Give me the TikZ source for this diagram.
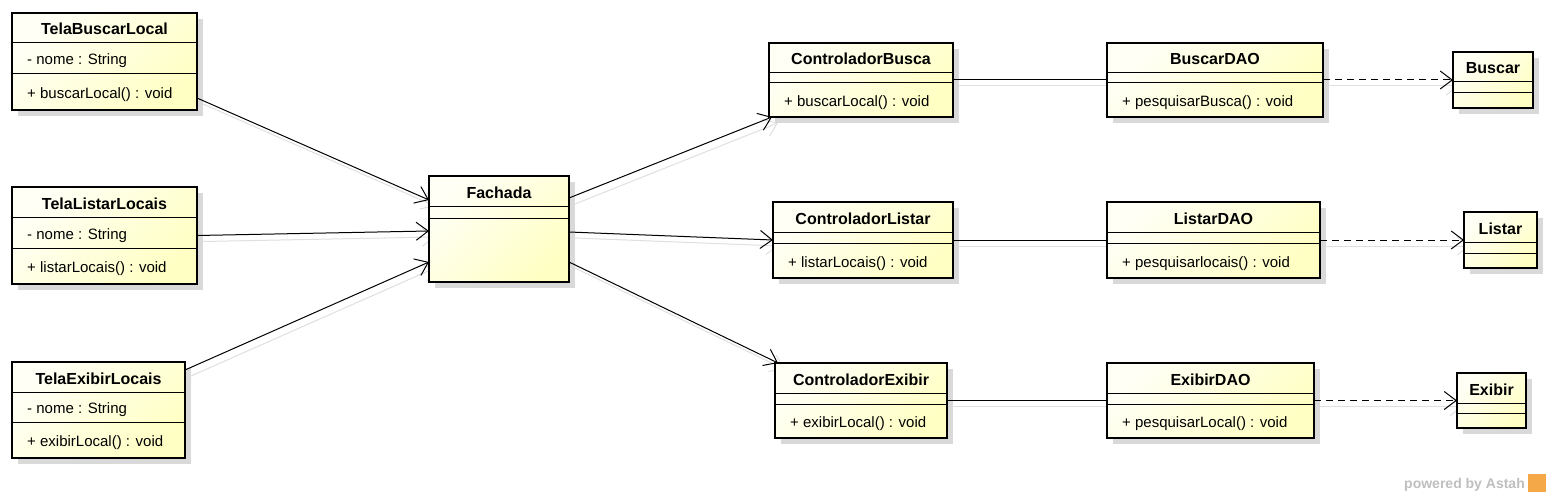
\documentclass[tikz,border=0pt]{standalone}
\usepackage{fontspec}
\setmainfont{Liberation Sans}
\usetikzlibrary{arrows.meta,backgrounds}
\definecolor{claro}{HTML}{FFFFF6}
\definecolor{creme}{HTML}{FFFFC4}
\definecolor{sombra}{HTML}{D9D9D9}
\definecolor{astah}{HTML}{F5A847}
\tikzset{
  caixa/.style={draw, line width=2.5pt, top color=claro, bottom color=creme, shading angle=45, inner sep=0pt, outer sep=0pt, anchor=north west},
  sombracaixa/.style={fill=sombra},
  divisor/.style={line width=1pt},
  titulo/.style={font=\fontsize{16}{18}\selectfont\bfseries, inner sep=0pt, anchor=base},
  membro/.style={font=\fontsize{15}{18}\selectfont, inner sep=0pt, anchor=base west},
  assoc/.style={line width=1pt, -{Straight Barb[length=12pt, width=18pt, line width=1pt]}},
  linha/.style={line width=1pt},
  depend/.style={assoc, dash pattern=on 7pt off 5pt},
  sombralinha/.style={draw=black!12, solid, transform canvas={shift={(6pt,-6pt)}}}
}
\newcommand{\classe}[9]{%
  \fill [sombracaixa] (#2+6,#3+6) rectangle (#4+6,#5+6);
  \node (#1) at (#2,#3) [caixa, minimum width={(#4-#2)*1pt}, minimum height={(#5-#3)*1pt}] {};
  \draw [divisor] (#2,#3+30) -- (#4,#3+30);
  \draw [divisor] (#2,#6) -- (#4,#6);
  \node (#1-nome) at ({(#2+#4)/2},#3+22) [titulo] {#7};
  \node (#1-atr) at (#2+15,{(#3+30+#6)/2+6.5}) [membro] {#8};
  \node (#1-met) at (#2+15,{(#6+#5)/2+6.5}) [membro] {#9};
}
\newcommand{\ligacao}[3]{%
  \begin{pgfonlayer}{background}
    \draw [#1, sombralinha] #2 -- #3;
  \end{pgfonlayer}
  \draw [#1] #2 -- #3;
}
\begin{document}
\begin{tikzpicture}[x=1pt, y=-1pt]
  \useasboundingbox (0,0) rectangle (1549,497);
  \begin{pgfonlayer}{background}
    \fill [white] (0,0) rectangle (1549,497);
  \end{pgfonlayer}

  \classe{tbl}{12}{13}{197}{110}{74}{TelaBuscarLocal}{- nome : String}{+ buscarLocal() : void}
  \classe{tll}{12}{187}{197}{284}{248}{TelaListarLocais}{- nome : String}{+ listarLocais() : void}
  \classe{tel}{12}{362}{185}{458}{422}{TelaExibirLocais}{- nome : String}{+ exibirLocal() : void}

  \classe{fachada}{429}{176}{569}{282}{218}{Fachada}{}{}

  \classe{cb}{769}{43}{953}{117}{83}{ControladorBusca}{}{+ buscarLocal() : void}
  \classe{cl}{773}{202}{953}{278}{243}{ControladorListar}{}{+ listarLocais() : void}
  \classe{ce}{775}{363}{947}{438}{404}{ControladorExibir}{}{+ exibirLocal() : void}

  \classe{bd}{1107}{43}{1323}{117}{83}{BuscarDAO}{}{+ pesquisarBusca() : void}
  \classe{ld}{1107}{202}{1320}{278}{243}{ListarDAO}{}{+ pesquisarlocais() : void}
  \classe{ed}{1107}{363}{1314}{438}{404}{ExibirDAO}{}{+ pesquisarLocal() : void}

  \classe{bu}{1453}{52}{1533}{108}{93}{Buscar}{}{}
  \classe{li}{1464}{212}{1537}{268}{253}{Listar}{}{}
  \classe{ex}{1457}{373}{1526}{428}{413}{Exibir}{}{}

  \ligacao{assoc}{([yshift=-36.5pt]tbl.east)}{([yshift=29pt]fachada.west)}
  \ligacao{assoc}{(tll.east)}{([yshift=-2pt]fachada.west)}
  \ligacao{assoc}{([yshift=40pt]tel.east)}{([yshift=-33pt]fachada.west)}
  \ligacao{assoc}{([yshift=31pt]fachada.east)}{([xshift=3pt]cb.south west)}
  \ligacao{assoc}{([yshift=-3pt]fachada.east)}{(cl.west)}
  \ligacao{assoc}{([yshift=-33pt]fachada.east)}{([xshift=3pt]ce.north west)}
  \ligacao{linha}{(cb.east)}{(bd.west)}
  \ligacao{linha}{(cl.east)}{(ld.west)}
  \ligacao{linha}{(ce.east)}{(ed.west)}
  \ligacao{depend}{(bd.east)}{(bu.west)}
  \ligacao{depend}{(ld.east)}{(li.west)}
  \ligacao{depend}{(ed.east)}{(ex.west)}

  \node (marca) at (1525,485) [anchor=east, font=\fontsize{14}{16}\selectfont\bfseries, text=black!25, inner sep=0pt] {powered by Astah};
  \node (logo) at (1537,483) [fill=astah, minimum size=18pt, inner sep=0pt] {};
\end{tikzpicture}
\end{document}
